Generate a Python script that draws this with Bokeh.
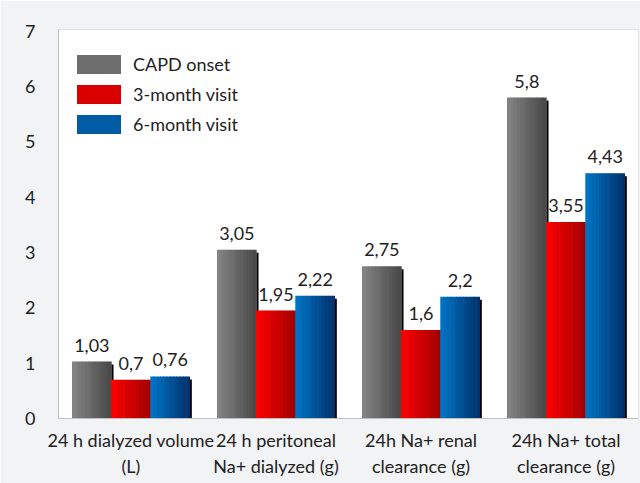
import numpy as np
from bokeh.plotting import figure
from bokeh.models import (ColumnDataSource, Range1d, FixedTicker, LabelSet,
                          Legend, LegendItem)
from bokeh.core.properties import value
from bokeh.embed import file_html
from bokeh.resources import INLINE

# ---- data ----
categories = ["24 h dialyzed volume\n(L)", "24 h peritoneal\nNa+ dialyzed (g)",
              "24h Na+ renal\nclearance (g)", "24h Na+ total\nclearance (g)"]
series_names = ["CAPD onset", "3-month visit", "6-month visit"]
capd_onset = [1.03, 3.05, 2.75, 5.8]
month3 = [0.7, 1.95, 1.6, 3.55]
month6 = [0.76, 2.22, 2.2, 4.43]
y_ticks = [0, 1, 2, 3, 4, 5, 6, 7]

# ---- styles ----
grad = [("#858585", "#474747"), ("#ff0000", "#a00000"), ("#0076c8", "#00306a")]
FONT = "Lato"
FS = "18px"
W, H = 640, 483
BL, BT, BR, BB = 58, 29, 2, 65
N = 12
bw = 0.27
offsets = [-bw, 0.0, bw]
YMAX = 7.03

p = figure(width=W, height=H, output_backend="svg", toolbar_location=None,
           x_range=Range1d(0, len(categories)), y_range=Range1d(0, YMAX),
           min_border_left=BL, min_border_top=BT, min_border_right=BR,
           min_border_bottom=BB)
p.border_fill_color = "#f2f3f5"
p.background_fill_color = "white"
p.outline_line_color = "#e3e3e3"
p.xgrid.visible = False
p.ygrid.visible = False

frame_w = W - BL - BR
px = len(categories) / frame_w  # one pixel in x data units
py = YMAX / (H - BT - BB)

centers = np.arange(len(categories)) + 0.5


def mix(c1, c2, t):
    a = [int(c1[i:i + 2], 16) for i in (1, 3, 5)]
    b = [int(c2[i:i + 2], 16) for i in (1, 3, 5)]
    return "#%02x%02x%02x" % tuple(round(a[k] + (b[k] - a[k]) * t) for k in range(3))


legend_items = []
all_vals = [capd_onset, month3, month6]
for s, vals in enumerate(all_vals):
    vals = np.array(vals)
    # shadow
    ssrc = ColumnDataSource(dict(x=centers + offsets[s] + bw / 2 + 1.0 * px,
                                 top=vals - 3 * py))
    p.vbar(x="x", top="top", bottom=0, width=2.2 * px, source=ssrc,
           fill_color="black", line_color=None)
    mid_r = None
    for j in range(N):
        t = (j + 0.5) / N
        col = mix(grad[s][0], grad[s][1], t)
        xs = centers + offsets[s] - bw / 2 + (j + 0.5) * bw / N
        src = ColumnDataSource(dict(x=xs, top=vals))
        r = p.vbar(x="x", top="top", bottom=0, width=bw / N + 0.6 * px,
                   source=src, fill_color=col, line_color=None)
        if j == N // 2 - 2:
            mid_r = r
    legend_items.append(LegendItem(label=series_names[s], renderers=[mid_r]))
    lsrc = ColumnDataSource(dict(x=centers + offsets[s], y=vals,
                                 t=[str(v).replace(".", ",") for v in vals]))
    p.add_layout(LabelSet(x="x", y="y", text="t", source=lsrc, y_offset=10,
                          text_align="center", text_baseline="bottom",
                          text_font=value(FONT), text_font_size=value(FS),
                          text_color="#222222"))

leg = Legend(items=legend_items, location=(13, 282), margin=0, padding=3,
             glyph_width=55, glyph_height=24, spacing=6, label_standoff=7,
             label_text_font=FONT, label_text_font_size=FS,
             label_text_color="#222222", border_line_color=None,
             background_fill_alpha=0)
p.add_layout(leg)

# axes
p.xaxis.ticker = FixedTicker(ticks=list(centers))
p.xaxis.major_label_overrides = {float(c): lab for c, lab in zip(centers, categories)}
p.xaxis.major_tick_line_color = None
p.xaxis.minor_tick_line_color = None
p.xaxis.axis_line_color = "#bfbfbf"
p.xaxis.major_label_standoff = 4
p.xaxis.major_label_text_font = FONT
p.xaxis.major_label_text_font_size = FS
p.xaxis.major_label_text_color = "#222222"

p.yaxis.ticker = FixedTicker(ticks=y_ticks)
p.yaxis.major_tick_line_color = None
p.yaxis.minor_tick_line_color = None
p.yaxis.axis_line_color = "#bfbfbf"
p.yaxis.major_label_standoff = 17
p.yaxis.major_label_text_font = FONT
p.yaxis.major_label_text_font_size = FS
p.yaxis.major_label_text_color = "#222222"

open("out.html", "w").write(file_html(p, INLINE))
